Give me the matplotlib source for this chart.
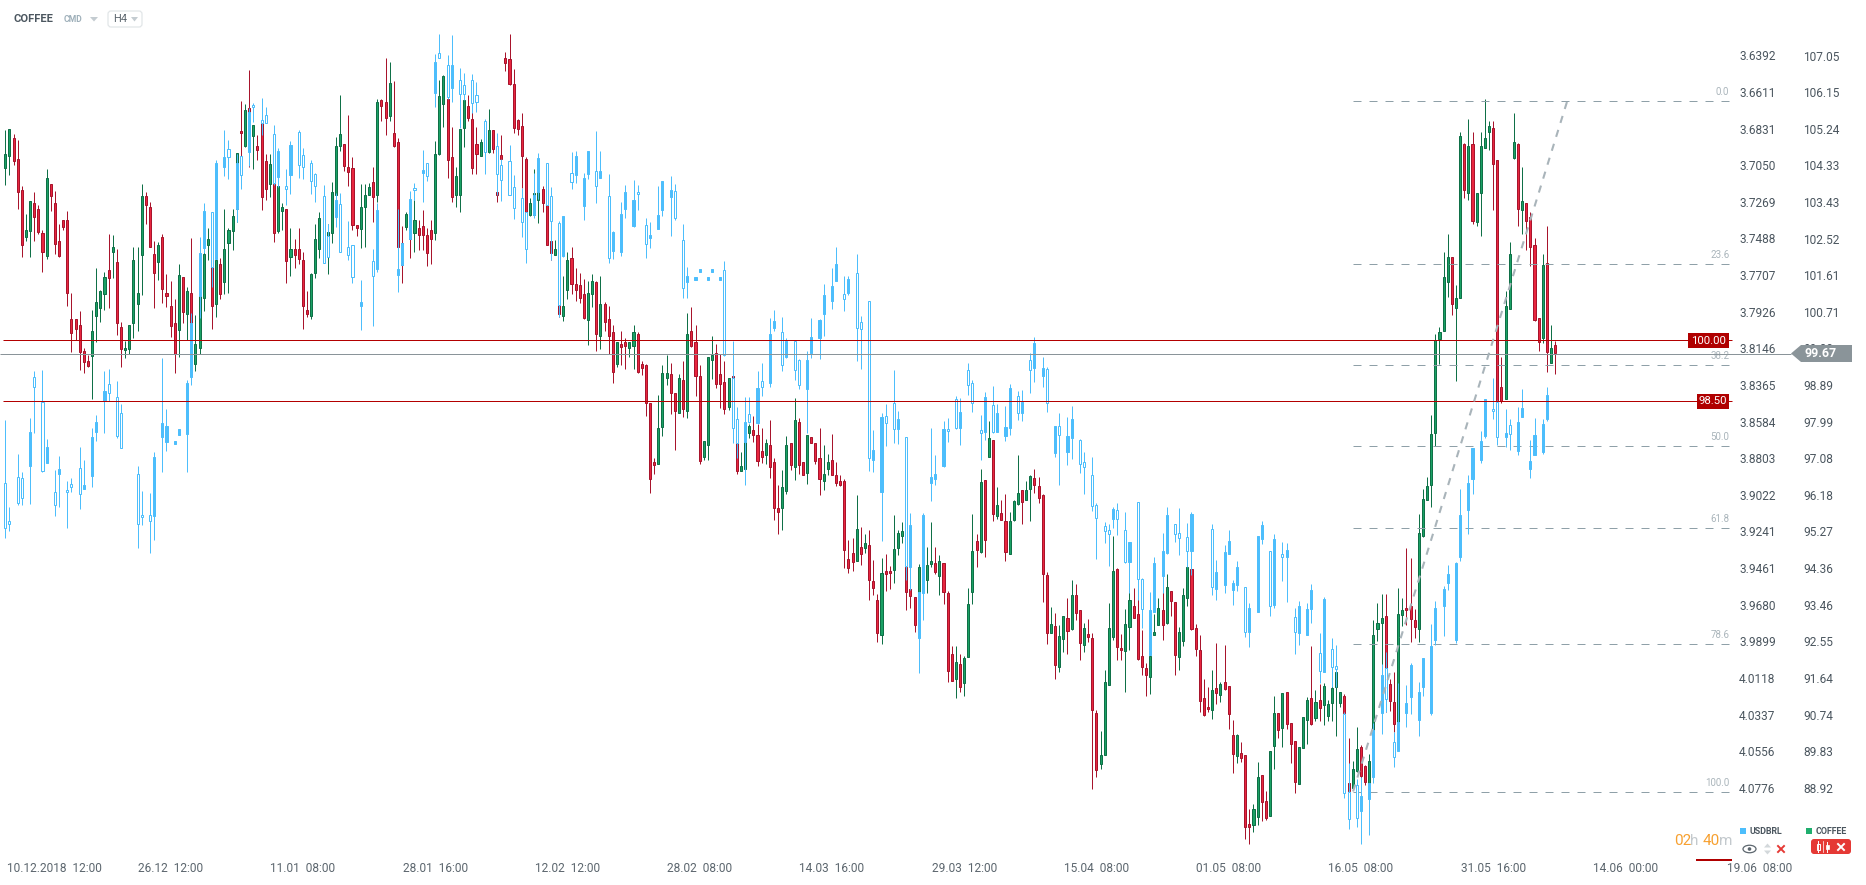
import matplotlib
matplotlib.use('Agg')
import matplotlib.pyplot as plt
from matplotlib.patches import Polygon, FancyBboxPatch, Rectangle, Circle

plt.rcParams['font.family'] = ['Roboto', 'DejaVu Sans']

# candles are (open, high, low, close); None = no candle drawn
coffee_dec = [(104.27,105.20,103.84,104.62),(104.57,105.22,104.09,105.22),(105.00,105.12,104.34,104.44),(104.50,104.95,103.25,103.68),(103.73,103.83,102.07,102.36),(102.56,103.14,102.46,102.74),(102.71,103.46,102.07,103.46),(103.41,103.68,102.46,103.06),(103.24,103.34,102.63,102.69),(102.65,102.73,101.70,102.19),(102.09,104.23,102.01,104.01),(103.86,103.86,103.21,103.58),(103.41,103.69,102.13,102.39),(102.47,102.88,102.07,102.08),(102.97,102.97,102.73,102.81),(102.99,103.2,100.85,101.18),(100.52,101.18,99.72,100.19),(100.54,100.54,100.0,100.29),(100.39,100.72,99.26,99.72),(99.73,99.8,99.2,99.47),(99.48,99.63,99.35,99.36),(99.62,100.75,98.55,100.22),(100.61,101.78,99.96,100.96),(100.81,101.24,100.46,101.22),(101.16,101.69,100.75,101.56),(101.75,102.63,100.81,101.55),(102.19,102.6,101.55,102.32),(101.93,102.26,100.13,100.43),(100.34,100.45,99.35,99.79),(99.77,99.99,99.57,99.82),(99.79,100.39,99.67,100.39),(100.43,102.3,100.06,101.98),(100.89,102.31,100.24,101.18),(102.11,103.87,101.12,103.58),(103.58,103.68,102.88,103.35),(103.29,103.42,102.3,102.31),(102.15,102.46,100.79,101.67),(101.94,102.44,101.49,102.35),(102.55,102.63,100.93,101.26),(101.18,101.64,100.83,101.1)]
coffee_jan = [(100.84,101.47,100.09,100.36),(100.44,101.02,99.2,99.67),(100.26,101.88,99.59,101.61),(101.56,101.56,100.43,100.71),(100.66,101.32,100.0,101.23),(101.18,102.53,100.42,100.42),(99.42,100.62,99.24,99.9),(99.82,102.07,99.67,101.82),(101.05,102.27,100.73,102.15),(102.36,102.77,101.98,102.5),(101.82,102.52,100.28,100.85),(100.91,103.26,100.58,102.0),(101.9,102.03,101.03,101.15),(101.45,103.26,101.14,102.27),(102.41,102.77,101.18,102.74),(102.71,103.26,102.23,103.09),(103.26,104.64,102.93,104.64),(105.19,105.92,104.56,105.14),(104.81,105.86,104.79,105.69),(105.74,106.7,104.3,104.71),(105.06,105.34,104.25,105.34),(104.8,105.08,104.46,104.72),(105.37,105.57,103.22,103.55),(104.45,104.62,103.47,103.75),(103.86,104.62,103.55,104.36),(103.87,104.3,102.44,102.67),(102.71,104.05,102.65,103.83),(103.2,103.41,102.73,103.29),(103.24,103.24,101.42,101.97),(102.07,102.77,101.6,102.25),(102.25,102.52,101.78,102.12),(102.25,102.77,101.9,102.02),(102.0,102.19,100.28,100.85),(100.74,101.22,100.58,100.65),(100.61,101.67,100.52,101.65),(101.67,102.88,101.55,102.5),(102.27,103.17,102.03,103.04),None,(102.58,102.88,101.65,102.69),(102.66,103.92,102.4,103.68)]
coffee_feb = [(103.59,105.04,103.43,104.81),(104.81,106.07,104.69,105.1),(104.85,104.85,104.2,104.32),(104.3,105.57,103.82,104.17),(104.26,104.53,102.73,102.86),(102.85,102.85,102.59,102.79),(102.76,103.86,102.29,103.29),(103.3,103.86,102.3,103.59),(103.6,103.9,103.59,103.79),(103.93,104.28,102.93,103.55),(103.59,105.97,103.43,105.89),(105.94,105.97,105.43,105.8),(105.89,106.98,105.08,105.51),(105.56,106.88,105.43,106.38),(105.14,106.42,104.79,104.81),(104.9,105.02,102.07,102.3),(102.4,102.83,101.42,101.86),(102.81,103.17,102.73,103.14),(103.47,103.68,102.04,102.52),(102.66,103.47,102.19,102.99),(102.79,102.97,102.23,102.61),(102.84,103.22,102.23,102.61),(102.6,102.77,101.84,102.17),(102.74,102.97,101.9,102.51),(102.66,104.93,102.48,104.61),(104.61,106.44,104.58,106.04),(105.85,106.56,105.28,106.54),(105.97,105.97,104.02,104.47),(104.55,105.28,103.43,103.55),(103.6,104.3,103.31,104.08),(103.6,105.24,103.17,105.24),(105.26,106.19,104.79,105.94),(105.79,106.07,105.43,105.51),(105.49,105.94,104.13,104.27),(104.85,105.28,104.13,104.62),(104.57,104.98,104.57,104.9),None,(104.67,105.73,104.65,105.2),(105.2,105.2,104.65,104.73),(103.68,104.05,103.43,103.6)]
coffee_mar = [(104.59,105.08,104.48,104.48),(107.0,107.13,106.68,106.87),(106.96,107.58,106.32,106.35),(106.34,106.71,105.14,105.26),(105.45,105.47,105.08,105.22),(105.3,105.63,103.78,104.57),(104.5,104.53,102.98,103.19),(103.1,103.52,103.08,103.39),(103.1,104.24,103.06,103.64),(103.48,103.72,102.9,103.72),(103.74,103.82,103.19,103.41),(103.35,103.35,102.36,102.36),(102.46,102.46,101.99,102.17),(102.12,102.48,102.11,102.25),(101.9,101.9,100.57,100.66),(100.61,101.59,100.48,100.84),(101.25,102.18,101.02,102.0),(102.05,102.32,101.16,101.4),(101.39,101.78,100.98,101.25),(101.38,101.68,100.93,101.05),(101.14,101.53,100.52,100.55),(100.51,101.47,99.89,101.18),(101.15,101.64,100.83,101.48),(101.44,101.47,99.73,100.15),(100.11,101.59,99.78,100.89),(100.9,100.96,100.24,100.46),(100.54,100.86,99.67,100.11),(100.2,100.37,98.95,99.22),(99.42,99.95,99.35,99.95),(99.9,100.23,99.39,99.83),(99.95,100.07,99.29,99.86),(99.82,99.95,99.59,99.95),(99.86,100.37,99.29,100.2),(100.15,100.2,99.2,99.22),(99.41,99.48,99.14,99.32),(99.4,99.41,98.13,98.46),(98.44,98.46,96.22,96.57),(97.0,97.09,96.69,96.92),(96.95,98.66,96.94,97.84),(97.86,99.39,97.63,99.2)]
coffee_apr = [(99.07,99.63,98.9,99.2),(99.16,99.43,98.17,98.7),(98.69,98.69,97.28,98.26),(98.21,99.18,98.21,99.06),(99.01,99.48,98.11,98.3),(98.26,100.67,98.07,100.15),(100.24,100.82,99.84,99.86),(99.95,100.37,98.62,99.12),(99.11,99.38,96.94,97.02),(97.12,97.5,97.04,97.5),(97.41,99.6,97.04,99.6),(99.52,100.12,99.04,99.65),(99.7,99.92,98.82,98.92),(99.16,99.66,98.32,98.92),(98.96,99.48,98.17,98.31),(98.35,99.07,98.27,99.06),(99.11,99.11,99.06,99.06),(97.46,97.46,96.69,96.77),(96.77,97.23,96.77,96.9),(96.82,97.97,96.8,97.48),(97.71,97.94,97.58,97.89),(97.79,98.12,97.48,97.66),(97.65,97.93,96.89,97.02),(97.25,97.82,96.97,97.12),(97.17,97.57,96.94,97.45),(97.4,98.03,96.6,96.87),(97.0,97.08,95.55,95.86),(95.84,96.43,95.22,95.76),(95.86,96.78,95.3,96.36),(96.28,97.63,96.2,97.4),(97.45,97.45,96.79,96.92),(96.87,98.57,96.54,98.04),(97.99,98.07,96.69,96.92),(97.0,97.0,96.66,96.67),(96.72,97.67,96.44,97.65),(97.6,97.6,97.46,97.46),(97.45,97.45,96.95,97.02),(97.1,97.82,96.17,96.57),(96.52,97.42,96.29,96.7),(96.82,97.18,96.67,97.0),(97.05,97.68,96.66,96.67),(96.66,96.98,96.39,96.47),(96.51,96.67,96.39,96.42),(96.51,96.58,94.37,94.8),(94.6,95.07,94.24,94.37),(94.74,95.12,94.29,94.51),(94.55,96.17,94.53,95.34)]
coffee_may = [(94.89,95.38,94.43,94.71),(94.86,95.21,94.74,94.99),(94.94,95.31,93.57,94.07),(94.05,94.57,93.69,93.87),(93.58,93.73,92.53,92.76),(92.71,94.62,92.48,94.25),(94.3,94.72,93.8,94.22),(94.3,94.42,93.84,94.24),(94.32,95.67,93.99,94.84),(94.86,95.31,94.68,95.24),(95.16,95.51,94.98,95.29),(94.4,94.4,93.32,93.77),(93.85,94.0,93.38,93.67),(93.66,93.66,92.77,92.95),(93.77,94.47,93.73,94.4),(93.9,94.39,93.9,94.39),(94.08,94.88,93.74,94.45),(94.46,95.51,94.39,94.55),(94.5,94.88,94.23,94.26),(94.18,94.68,93.69,94.55),(94.5,94.5,93.47,93.77),(93.75,93.79,91.54,91.82),(92.24,92.43,91.56,91.57),(91.63,92.43,91.15,92.05),(92.0,92.23,91.3,91.42),(91.52,92.18,91.2,92.15),(92.16,93.88,92.16,93.48),(93.77,95.71,93.47,94.79),(95.04,95.21,94.39,94.81),(94.76,96.82,94.74,96.5),(96.55,96.55,94.64,95.06),(97.11,98.01,97.11,97.59),(97.54,97.54,95.53,95.7),(95.65,96.38,95.58,95.93),(95.73,96.06,95.55,95.55),(95.54,96.2,94.54,94.76),(94.71,95.76,94.71,95.54),(95.55,96.06,95.54,96.03),(95.95,97.17,95.93,96.23),(96.3,96.3,95.46,96.0),(96.05,96.53,96.04,96.3),(96.33,96.68,95.53,96.65),(96.6,96.82,96.22,96.43),(96.4,96.63,95.97,96.11),(96.18,96.2,93.52,94.22),(94.2,94.27,92.48,92.76),(92.76,93.41,92.76,92.99),(92.94,93.26,91.63,91.97),(91.91,92.96,91.79,92.69),(92.61,93.19,92.29,93.19),(93.14,93.63,92.23,92.81),(92.85,94.08,92.82,93.71),(93.71,93.98,93.07,93.25),(93.33,93.33,92.08,92.51),(92.46,93.01,92.28,92.89),(92.74,93.11,92.53,92.66),(92.64,92.76,88.9,90.85),(90.78,90.86,89.19,89.37),(89.51,90.32,89.38,89.75),(89.75,91.83,89.73,91.55),(91.47,93.51,91.47,92.89),(92.66,95.17,92.58,94.3),(94.35,94.37,92.08,92.41),(92.39,92.74,92.08,92.34),(92.31,93.36,91.3,92.99),(92.9,93.88,92.33,93.58),(93.43,93.88,93.12,93.14),(93.23,93.81,92.1,92.11),(92.2,92.84,91.73,91.91),(91.9,92.02,91.2,91.72),(91.67,92.2,91.24,92.2),(92.71,93.23,92.71,92.79),(92.95,93.63,92.95,93.38),(93.33,93.76,92.58,92.95),(93.0,94.22,92.99,93.9),(93.8,93.8,93.17,93.55),(93.53,93.53,91.73,92.21),(92.16,92.91,91.83,92.79),(92.56,93.88,92.43,93.71),(93.62,94.62,93.42,94.4),(94.35,94.35,92.84,92.86),(92.89,92.97,92.18,92.36),(92.34,92.72,90.81,91.07),(91.16,91.63,90.71,90.74),(90.93,91.43,90.81,90.87),(90.84,91.83,90.62,91.35),(91.4,92.52,90.99,91.27),(91.22,91.55,91.04,91.5),(91.55,92.47,91.35,91.37),(91.45,91.45,90.37,90.75),(90.24,90.61,89.28,89.76),(89.71,90.26,89.54,90.24),(89.79,90.07,89.57,89.66),(89.75,89.75,87.67,87.95),(88.04,88.39,87.53,87.95),(88.0,88.53,87.82,88.41),(88.2,89.57,88.01,89.2),(89.25,89.25,88.1,88.57),(88.61,88.84,88.14,88.19),(88.24,89.84,88.23,89.84),(89.96,91.19,89.38,90.78),(90.78,90.78,90.17,90.36),(90.41,91.28,89.94,91.26),(91.3,91.3,90.37,90.5),(90.54,90.54,89.54,90.01),(90.09,90.09,88.8,89.07),(89.02,89.94,89.02,89.94),(89.91,90.69,89.9,90.69),(90.6,91.18,90.02,91.11),(91.16,92.43,90.47,90.5),(90.65,91.34,90.58,91.06),(91.11,91.5,90.58,90.9),(90.97,91.53,90.48,91.45),(90.7,91.09,90.58,91.01),(91.02,91.75,90.58,91.4),(91.42,91.8,90.22,91.8),(91.02,91.3,90.92,91.3),(91.2,91.25,90.72,90.78),(89.05,90.17,88.83,88.85),(88.92,89.58,88.91,89.4),(89.33,90.42,89.32,89.89)]
coffee_jun = [(89.94,89.98,89.13,89.22),(89.46,89.49,88.99,89.06),(89.03,89.77,89.03,89.6),(90.35,93.07,90.35,92.7),(92.86,93.51,92.57,93.0),(93.0,93.73,91.96,93.14),(93.19,93.73,90.8,91.88),(91.5,91.63,90.83,91.07),(91.06,91.78,90.31,90.5),(90.55,93.88,90.55,93.24),(93.2,93.63,92.93,93.33),(93.38,94.87,92.95,93.33),(93.43,94.62,92.53,93.11),(93.09,93.36,92.63,92.9),(92.86,95.71,92.53,95.24),(95.16,96.33,95.13,96.08),(96.06,96.63,96.04,96.4),(96.43,98.16,95.88,97.69),(97.71,100.17,97.38,100.0),(100.03,100.33,99.41,100.2),(100.22,102.18,100.22,101.56),(101.45,102.63,101.07,102.06),(102.06,102.06,100.63,100.91),(100.81,101.36,99.0,101.04),(101.06,105.17,101.06,105.05),(104.86,104.88,103.52,103.71),(103.66,105.47,103.48,104.8),(104.85,105.17,102.88,102.96),(102.92,103.66,102.84,103.64),(103.66,105.17,102.59,104.8),(104.77,105.97,104.77,105.0),(105.17,105.43,104.7,105.3),(105.25,105.43,103.23,104.37),(104.46,104.46,98.5,98.51),(98.85,99.6,98.44,98.5),(98.56,101.21,98.56,100.84),(100.77,102.43,100.77,102.15),(104.52,105.62,104.5,104.9),(104.85,104.88,102.84,103.26),(103.22,104.28,102.63,103.44),(103.39,103.39,102.24,102.96),(103.05,103.17,101.84,102.32),(102.35,102.53,100.49,100.51),(100.55,100.55,99.74,99.97),(100.06,102.13,99.94,101.86),(101.91,102.83,99.22,99.72),(99.45,100.37,99.45,99.8),(99.88,99.98,99.17,99.68)]

# usdbrl candles carry their candle number in front: (n, open, high, low, close)
usdbrl_dec = [(0,3.8953,3.9278,3.8574,3.9222),(1,3.9180,3.9236,3.9097,3.9194),(3,3.8917,3.9083,3.8777,3.9069),(4,3.8923,3.9083,3.8885,3.9039),(6,3.8847,3.9077,3.8564,3.8648),(7,3.8319,3.8652,3.8281,3.8374),(9,3.8464,3.8885,3.8275,3.8877),(10,3.8829,3.8829,3.8690,3.8737),(12,3.9007,3.9148,3.8875,3.9081),(13,3.8895,3.9095,3.8791,3.8869),(15,3.8995,3.9220,3.8939,3.9007),(16,3.8959,3.9005,3.8923,3.8973),(18,3.8863,3.9107,3.8737,3.9019),(19,3.8985,3.8985,3.8815,3.8965),(21,3.8907,3.8975,3.8624,3.8678),(22,3.8644,3.8700,3.8544,3.8588),(24,3.8462,3.8652,3.8281,3.8402),(25,3.8360,3.8462,3.8271,3.8414),(27,3.8438,3.8680,3.8342,3.8668),(28,3.8534,3.8739,3.8480,3.8739),(32,3.8899,3.9338,3.8851,3.9198),(33,3.9144,3.9202,3.8999,3.9156),(35,3.9144,3.9370,3.9013,3.9180),(36,3.9146,3.9292,3.8767,3.8797),(38,3.8674,3.8885,3.8205,3.8594),(39,3.8704,3.8759,3.8510,3.8612)]
usdbrl_jan = [(41,3.8716,3.8716,3.8702,3.8702),(42,3.8662,3.8662,3.8630,3.8630),(44,3.8656,3.8885,3.8336,3.8354),(45,3.8315,3.8364,3.7935,3.7995),(47,3.7832,3.7965,3.7481,3.7576),(48,3.7547,3.7577,3.7278,3.7326),(50,3.7332,3.7781,3.7332,3.7657),(51,3.7613,3.7613,3.7019,3.7039),(53,3.7058,3.7112,3.6839,3.7003),(54,3.6955,3.7130,3.6899,3.7003),(56,3.7312,3.7388,3.6985,3.7039),(57,3.6997,3.7192,3.6997,3.7106),(59,3.6969,3.7053,3.6709,3.6733),(60,3.6691,3.6793,3.6679,3.6703),(62,3.6781,3.6869,3.6649,3.6799),(63,3.6751,3.6799,3.6701,3.6795),(65,3.6865,3.7168,3.6811,3.7158),(66,3.7118,3.7178,3.6949,3.6967),(68,3.7176,3.7288,3.7074,3.7190),(69,3.7106,3.7220,3.6907,3.6931),(71,3.6853,3.7128,3.6841,3.7047),(72,3.6991,3.7134,3.6949,3.7062),(74,3.7039,3.7222,3.7021,3.7142),(75,3.7104,3.7268,3.7098,3.7176),(77,3.7236,3.7637,3.7170,3.7633),(78,3.7473,3.7597,3.7402,3.7597)]
usdbrl_feb = [(80,3.7358,3.7418,3.7218,3.7260),(81,3.7284,3.7571,3.7218,3.7567),(83,3.7541,3.7617,3.7384,3.7587),(84,3.7529,3.7755,3.7529,3.7717),(86,3.7890,3.8034,3.7737,3.7870),(89,3.7625,3.8010,3.7553,3.7711),(90,3.7669,3.7687,3.7278,3.7320),(95,3.7705,3.7807,3.7314,3.7673),(96,3.7647,3.7647,3.7513,3.7517),(98,3.7489,3.7489,3.7206,3.7254),(99,3.7188,3.7258,3.7158,3.7200),(101,3.7094,3.7268,3.6959,3.7080),(102,3.7039,3.7144,3.7039,3.7116),(104,3.6616,3.6699,3.6386,3.6434),(105,3.6380,3.6410,3.6264,3.6406),(107,3.6452,3.6654,3.6392,3.6644),(108,3.6590,3.6669,3.6272,3.6452),(110,3.6542,3.6825,3.6470,3.6622),(111,3.6572,3.6660,3.6500,3.6622),(113,3.6542,3.6739,3.6506,3.6680),(114,3.6632,3.6733,3.6554,3.6673),(116,3.6788,3.7101,3.6776,3.6973),(119,3.6937,3.7228,3.6859,3.7105)]
usdbrl_mar = [(120,3.7051,3.7264,3.7015,3.7141),(122,3.7027,3.7230,3.6931,3.7230),(123,3.7182,3.7372,3.7110,3.7308),(125,3.7248,3.7478,3.7188,3.7388),(126,3.7332,3.7633,3.7332,3.7550),(128,3.7348,3.7368,3.7097,3.7228),(129,3.7208,3.7252,3.6979,3.7009),(131,3.7039,3.7290,3.7039,3.7290),(132,3.7236,3.7617,3.7182,3.7382),(134,3.7398,3.7960,3.7386,3.7886),(135,3.7593,3.7601,3.7354,3.7354),(137,3.7099,3.7190,3.6971,3.7149),(138,3.7107,3.7155,3.6965,3.6995),(140,3.7292,3.7378,3.7099,3.7129),(141,3.7101,3.7131,3.6965,3.6965),(143,3.7087,3.7274,3.6847,3.7173),(144,3.7125,3.7125,3.6965,3.7085),(146,3.7236,3.7633,3.7103,3.7603),(147,3.7561,3.7611,3.7446,3.7450),(149,3.7567,3.7593,3.7268,3.7342),(150,3.7310,3.7366,3.7168,3.7210),(152,3.7412,3.7418,3.7139,3.7258),(153,3.7210,3.7318,3.7168,3.7224),(155,3.7410,3.7603,3.7368,3.7523),(156,3.7483,3.7545,3.7392,3.7469),(158,3.7432,3.7432,3.7174,3.7348),(159,3.7318,3.7354,3.7147,3.7147)]
usdbrl_apr = [(161,3.7240,3.7472,3.7114,3.7198),(162,3.7206,3.7378,3.7163,3.7364),(164,3.7499,3.7843,3.7402,3.7783),(165,3.7747,3.7843,3.7661,3.7715),(167,3.7735,3.7735,3.7721,3.7721),(168,3.7687,3.7687,3.7673,3.7673),(170,3.7735,3.7735,3.7721,3.7721),(171,3.7687,3.7687,3.7673,3.7673),(173,3.7735,3.7735,3.7721,3.7721),(174,3.7679,3.8190,3.7623,3.8186),(176,3.8325,3.8714,3.8104,3.8621),(177,3.8571,3.8804,3.8499,3.8714),(179,3.8704,3.8964,3.8439,3.8589),(180,3.8541,3.8595,3.8435,3.8585),(182,3.8595,3.8599,3.8283,3.8385),(183,3.8343,3.8431,3.8235,3.8375),(185,3.8351,3.8375,3.7966,3.8062),(186,3.8022,3.8042,3.7918,3.7984),(188,3.8050,3.8279,3.7960,3.8243),(189,3.8196,3.8206,3.8086,3.8104),(191,3.8104,3.8335,3.8104,3.8273),(192,3.8218,3.8387,3.8212,3.8363),(194,3.8387,3.8655,3.8162,3.8218),(195,3.8176,3.8202,3.7966,3.8080),(197,3.8082,3.8210,3.7972,3.7978),(198,3.7938,3.8072,3.7763,3.7828),(200,3.7860,3.7908,3.7667,3.7775),(201,3.7741,3.7741,3.7541,3.7643),(203,3.7823,3.7920,3.7715,3.7852),(204,3.7813,3.7827,3.7715,3.7733),(206,3.7697,3.8222,3.7583,3.8026)]
usdbrl_may = [(207,3.7990,3.8267,3.7954,3.8032),(209,3.7864,3.8878,3.7864,3.8804),(210,3.8812,3.8884,3.8635,3.8756),(212,3.9003,3.9296,3.8535,3.8558),(213,3.8553,3.8730,3.8481,3.8595),(215,3.8475,3.8714,3.8277,3.8631),(216,3.8631,3.8720,3.8521,3.8571),(218,3.8678,3.9532,3.8678,3.9448),(219,3.9452,3.9592,3.9133,3.9203),(221,3.9877,4.0089,3.9602,3.9602),(222,3.9608,3.9771,3.9133,3.9143),(224,3.8949,3.9057,3.8622,3.8918),(225,3.8925,3.8963,3.8784,3.8898),(227,3.8850,3.8854,3.8582,3.8630),(228,3.8630,3.8704,3.8562,3.8642),(230,3.8451,3.8628,3.8431,3.8624),(231,3.8620,3.8724,3.8445,3.8528),(233,3.8275,3.8425,3.8235,3.8367),(234,3.8355,3.8528,3.8335,3.8475),(236,3.8636,3.8814,3.8544,3.8650),(237,3.8648,3.8694,3.8409,3.8439),(239,3.8487,3.8654,3.8371,3.8644),(240,3.8644,3.8648,3.8479,3.8534),(242,3.8668,3.8698,3.8493,3.8618),(243,3.8624,3.8664,3.8361,3.8385),(245,3.8433,3.8574,3.8403,3.8534),(246,3.8534,3.8580,3.8395,3.8467),(248,3.8215,3.8411,3.8175,3.8275),(249,3.8265,3.8345,3.8076,3.8116),(251,3.8311,3.8375,3.8195,3.8263),(252,3.8269,3.8528,3.8255,3.8475),(254,3.8770,3.8794,3.8612,3.8612),(255,3.8612,3.8963,3.8534,3.8666),(257,3.8764,3.8844,3.8558,3.8672),(258,3.8680,3.8806,3.8493,3.8570),(260,3.8696,3.8892,3.8690,3.8840),(261,3.8828,3.9017,3.8768,3.8858),(263,3.8906,3.9117,3.8798,3.9087),(264,3.9085,3.9406,3.9073,3.9163),(266,3.9211,3.9308,3.9187,3.9241),(267,3.9235,3.9446,3.9199,3.9259),(268,3.9165,3.9219,3.9095,3.9109),(269,3.9115,3.9261,3.9073,3.9169),(271,3.9235,3.9428,3.9127,3.9424),(272,3.9422,3.9612,3.9306,3.9306),(274,3.9067,3.9652,3.9067,3.9528),(275,3.9528,3.9821,3.9522,3.9708),(277,3.9983,3.9983,3.9606,3.9713),(278,3.9721,3.9721,3.9396,3.9432),(280,3.9506,3.9612,3.9253,3.9360),(281,3.9368,3.9376,3.9097,3.9145),(283,3.9199,3.9307,3.9199,3.9259),(284,3.9253,3.9382,3.9103,3.9283),(286,3.9277,3.9452,3.9193,3.9357),(287,3.9357,3.9504,3.9127,3.9139),(292,3.9229,3.9622,3.9199,3.9576),(293,3.9584,3.9652,3.9414,3.9486),(295,3.9564,3.9612,3.9322,3.9366),(296,3.9374,3.9374,3.9235,3.9301),(297,3.9590,3.9682,3.9534,3.9552),(298,3.9560,3.9596,3.9420,3.9456),(300,3.9576,3.9875,3.9576,3.9841),(301,3.9841,3.9931,3.9672,3.9702),(303,3.9721,3.9721,3.9271,3.9271),(304,3.9287,3.9319,3.9181,3.9205),(306,3.9360,3.9747,3.9360,3.9685),(307,3.9681,3.9699,3.9259,3.9289),(309,3.9378,3.9538,3.9307,3.9396),(310,3.9392,3.9664,3.9312,3.9354),(312,3.9755,3.9975,3.9702,3.9845),(313,3.9847,3.9921,3.9660,3.9690),(315,3.9859,3.9863,3.9672,3.9708),(316,3.9704,3.9789,3.9558,3.9594),(318,3.9971,4.0150,3.9849,4.0079),(319,4.0081,4.0085,3.9636,3.9648),(321,3.9947,4.0170,3.9881,4.0054),(322,4.0048,4.0170,3.9923,4.0066),(324,4.0331,4.0835,4.0321,4.0809),(325,4.0799,4.1023,4.0624,4.0965),(327,4.0759,4.1009,4.0720,4.0959)]
usdbrl_jun = [(328,4.0913,4.1111,4.0710,4.0825),(330,4.0841,4.1057,4.0749,4.0749),(331,4.0710,4.0746,4.0390,4.0430),(333,4.0325,4.0452,4.0037,4.0103),(334,4.0061,4.0321,3.9964,4.0241),(336,4.0504,4.0650,4.0440,4.0594),(337,4.0554,4.0554,4.0151,4.0380),(339,4.0325,4.0410,4.0161,4.0265),(340,4.0231,4.0335,4.0031,4.0043),(342,4.0369,4.0466,4.0143,4.0205),(343,4.0171,4.0227,4.0000,4.0000),(345,4.0327,4.0341,3.9798,3.9924),(346,3.9891,3.9921,3.9658,3.9702),(348,3.9686,3.9866,3.9570,3.9588),(349,3.9550,3.9592,3.9443,3.9496),(351,3.9891,3.9911,3.9427,3.9433),(352,3.9393,3.9417,3.8990,3.9145),(354,3.9111,3.9255,3.8904,3.8954),(355,3.8926,3.9018,3.8740,3.8744),(357,3.8812,3.8832,3.8642,3.8702),(358,3.8668,3.8680,3.8451,3.8451),(360,3.8511,3.8567,3.8323,3.8523),(361,3.8469,3.8724,3.8455,3.8678),(363,3.8674,3.8734,3.8509,3.8654),(364,3.8606,3.8754,3.8570,3.8660),(366,3.8758,3.8784,3.8499,3.8589),(367,3.8555,3.8555,3.8391,3.8505),(369,3.8866,3.8922,3.8694,3.8822),(370,3.8782,3.8782,3.8565,3.8666),(372,3.8764,3.8778,3.8571,3.8601),(373,3.8567,3.8579,3.8379,3.8427)]

usdbrl_ticks = [3.6392,3.6611,3.6831,3.7050,3.7269,3.7488,3.7707,3.7926,3.8146,3.8365,3.8584,3.8803,3.9022,3.9241,3.9461,3.9680,3.9899,4.0118,4.0337,4.0556,4.0776]
coffee_ticks = [107.05,106.15,105.24,104.33,103.43,102.52,101.61,100.71,99.80,98.89,97.99,97.08,96.18,95.27,94.36,93.46,92.55,91.64,90.74,89.83,88.92]
date_ticks = [12,40,72,104,136,168,200,232,264,296,328,360,392,424.5]
date_labels = ['10.12.2018  12:00','26.12  12:00','11.01  08:00','28.01  16:00','12.02  12:00','28.02  08:00','14.03  16:00','29.03  12:00','15.04  08:00','01.05  08:00','16.05  08:00','31.05  16:00','14.06  00:00','19.06  08:00']

fib_levels = [0.0,23.6,38.2,50.0,61.8,78.6,100.0]
fib_high = 105.92
fib_low = 88.83
levels = [100.00,98.50]
last_price = 99.67

DARK = '#4b565f'
PX = 0.72  # one pixel in points at dpi 100

fig = plt.figure(figsize=(18.66,8.85), dpi=100)
ax = fig.add_axes([0,0,1,1])
ax.set_xlim(-1.282,450.2)
ax.set_ylim(86.52,108.425)
ax2 = ax.twinx()
ax2.set_ylim(4.1357,3.6061)

def draw_coffee(rows):
    for n,r in enumerate(rows):
        if r is None:
            continue
        o,h,l,c = r
        up = c>=o
        dark = '#0f7047' if up else '#a8142c'
        fill = '#1aa165' if up else '#e8263f'
        ax.vlines(n,l,h,color=dark,lw=PX,zorder=2)
        ax.bar(n,abs(c-o),bottom=min(o,c),width=0.5,color=fill,edgecolor=dark,linewidth=PX,zorder=3)

def draw_usdbrl(rows):
    blue = '#4dbefc'
    for n,o,h,l,c in rows:
        ax2.vlines(n,l,h,color=blue,lw=PX,zorder=4)
        if c>o:
            ax2.bar(n,c-o,bottom=o,width=0.5,facecolor='white',edgecolor=blue,linewidth=PX,zorder=5)
        else:
            ax2.bar(n,o-c,bottom=c,width=0.5,color=blue,edgecolor=blue,linewidth=PX,zorder=5)

draw_coffee(coffee_dec+coffee_jan+coffee_feb+coffee_mar+coffee_apr+coffee_may+coffee_jun)
draw_usdbrl(usdbrl_dec+usdbrl_jan+usdbrl_feb+usdbrl_mar+usdbrl_apr+usdbrl_may+usdbrl_jun)

# price axes, both columns sit inside the figure
ax.yaxis.tick_right()
ax.set_yticks(coffee_ticks)
ax.set_yticklabels(['%.2f' % v for v in coffee_ticks])
ax.tick_params(axis='y',length=0,pad=-(1866-1803)*PX,labelsize=8.6,labelcolor=DARK)
ax2.yaxis.tick_right()
ax2.set_yticks(usdbrl_ticks)
ax2.set_yticklabels(['%.4f' % v for v in usdbrl_ticks])
ax2.tick_params(axis='y',length=0,pad=-(1866-1739)*PX,labelsize=8.6,labelcolor=DARK)
ax.set_xticks(date_ticks)
ax.set_xticklabels(date_labels)
ax.tick_params(axis='x',length=0,pad=-23*PX,labelsize=8.6,labelcolor='#5c666e')
for a in (ax,ax2):
    for s in a.spines.values():
        s.set_visible(False)
    a.patch.set_visible(False)

# horizontal levels and fibonacci drawing
line_end = 417.8
fib_start = 326.1
ax2.hlines([3.6611+(340.3+(100-v)*40.39-91.9)/1671 for v in levels],-0.5,line_end,color='#b30000',lw=PX,zorder=6)
ax2.hlines(3.6611+(340.3+(100-last_price)*40.39-91.9)/1671,-1.282,432,color='#8a9499',lw=PX,zorder=6)
fib_price = [fib_high-(fib_high-fib_low)*v/100 for v in fib_levels]
for v,p in zip(fib_levels,fib_price):
    ax.plot([fib_start,line_end],[p,p],color='#8fa0a8',lw=PX,dashes=(8,8),zorder=6)
    ax.annotate('%.1f' % v,(line_end,p),xytext=(-2,9*PX),textcoords='offset points',
                ha='right',va='center',fontsize=7,color='#aab5bb',zorder=7)
ax2.plot([fib_start,377.9],[3.6611+(340.3+(100-fib_low)*40.39-91.9)/1671,3.6611+(340.3+(100-fib_high)*40.39-91.9)/1671],
         color='#a9b4ba',lw=1.5,dashes=(3.5,3.5),zorder=6)

# interface bits in figure pixels
ui = fig.add_axes([0,0,1,1],zorder=10)
ui.set_xlim(0,1866)
ui.set_ylim(885,0)
ui.axis('off')
ui.patch.set_visible(False)

ui.text(14,19,'COFFEE',fontsize=8,fontweight='bold',color=DARK,va='center')
ui.text(64,19,'CMD',fontsize=6.2,fontweight='bold',color='#9fb0ba',va='center')
ui.add_patch(Polygon([(90,17),(98,17),(94,21.5)],color='#c4ccd1',lw=0))
ui.add_patch(FancyBboxPatch((108,11),34,16,boxstyle='round,pad=0,rounding_size=3',fc='white',ec='#e2e6e8',lw=0.9))
ui.text(113,19.5,'H4',fontsize=8,color='#5c666e',va='center')
ui.add_patch(Polygon([(131,17),(138,17),(134.5,21.5)],color='#c4ccd1',lw=0))

for label,y0,y1,x0 in [('100.00',333,348,1688),('98.50',394,409,1697)]:
    ui.add_patch(Rectangle((x0,y0),1729-x0,y1-y0,color='#b00000',lw=0))
    ui.text((x0+1729)/2,(y0+y1)/2,label,color='white',fontsize=8.2,ha='center',va='center')

ui.add_patch(Polygon([(1791,353.5),(1801,345),(1852,345),(1852,362),(1801,362)],color='#8a9499',lw=0))
ui.text(1821,353.5,'99.67',color='white',fontsize=9,fontweight='bold',ha='center',va='center')

# countdown
for x,t,col in [(1674,'02','#f7a030'),(1690,'h','#c3c9cd'),(1703,'40','#f7a030'),(1719,'m','#c3c9cd')]:
    ui.text(x,841,t,color=col,fontsize=11,ha='left',va='center')
ui.add_patch(Rectangle((1696,859),36,2,color='#b00000',lw=0))

# legend
ui.add_patch(Rectangle((1740,828),6,6,color='#4dbefc',lw=0))
ui.text(1749,831,'USDBRL',fontsize=6.4,fontweight='bold',color=DARK,va='center')
ui.add_patch(Rectangle((1806,828),6,6,color='#1fae6e',lw=0))
ui.text(1816,831,'COFFEE',fontsize=6.4,fontweight='bold',color=DARK,va='center')
ui.add_patch(matplotlib.patches.Ellipse((1749.5,849),13,7.5,fc='white',ec='#5c666e',lw=0.9))
ui.add_patch(Circle((1749.5,849),1.8,color='#5c666e',lw=0))
ui.add_patch(Polygon([(1764,847.5),(1771,847.5),(1767.5,843.5)],color='#d3d8db',lw=0))
ui.add_patch(Polygon([(1764,850.5),(1771,850.5),(1767.5,854.5)],color='#d3d8db',lw=0))
ui.plot([1778,1784],[846,852],color='#e53935',lw=1.4)
ui.plot([1778,1784],[852,846],color='#e53935',lw=1.4)
ui.add_patch(FancyBboxPatch((1811,839),40,15,boxstyle='round,pad=0,rounding_size=3',fc='#e53935',ec='none'))
ui.plot([1818,1818],[841,852],color='white',lw=0.7)
ui.add_patch(Rectangle((1816.5,843.5),3,6,fc='#e53935',ec='white',lw=0.7))
ui.plot([1823,1823],[841,852],color='white',lw=0.5)
ui.plot([1827,1827],[842,852],color='white',lw=0.7)
ui.add_patch(Rectangle((1825.5,845),3,4,fc='white',ec='white',lw=0.5))
ui.plot([1838,1844],[844,850],color='white',lw=1.4)
ui.plot([1838,1844],[850,844],color='white',lw=1.4)

fig.savefig('out.png',dpi=100,facecolor='white')
